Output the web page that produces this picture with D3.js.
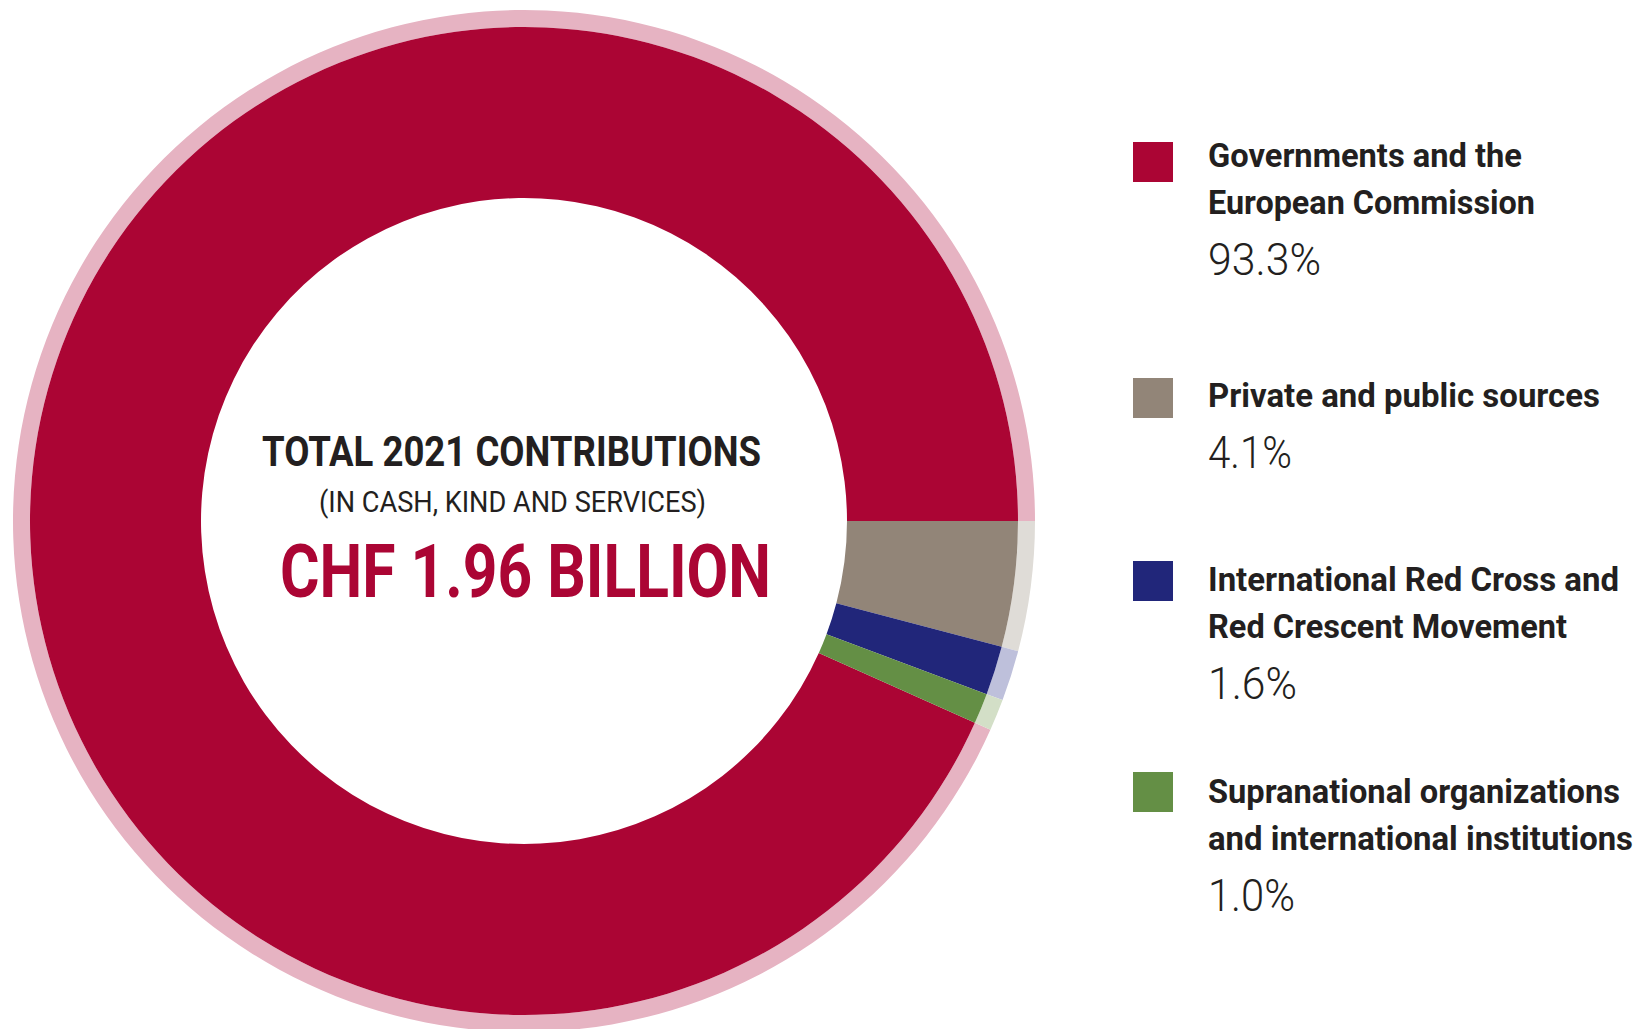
<!DOCTYPE html>
<html>
<head>
<meta charset="utf-8">
<script src="https://cdn.jsdelivr.net/npm/d3@7"></script>
<style>
  html, body { margin: 0; padding: 0; background: #ffffff; }
  svg { display: block; }
  .cond { font-family: "Roboto", "Liberation Sans", "DejaVu Sans", sans-serif; }
</style>
</head>
<body>
<svg id="chart" width="1645" height="1029"></svg>
<script>
// ---- data ----
const categories = [
  "Governments and the European Commission",
  "Private and public sources",
  "International Red Cross and Red Crescent Movement",
  "Supranational organizations and international institutions"
];
const legendLines = [
  ["Governments and the", "European Commission"],
  ["Private and public sources"],
  ["International Red Cross and", "Red Crescent Movement"],
  ["Supranational organizations", "and international institutions"]
];
const values = [93.3, 4.1, 1.6, 1.0];
const valueLabels = ["93.3%", "4.1%", "1.6%", "1.0%"];
const colors = ["#ab0534", "#928578", "#21267a", "#648f45"];
const tints = ["#e6b3c2", "#dfdcd7", "#bec0db", "#d3dfc7"];
const centerTitle = "TOTAL 2021 CONTRIBUTIONS";
const centerSub = "(IN CASH, KIND AND SERVICES)";
const centerTotal = "CHF 1.96 BILLION";

// ---- layout (condensed-type widths, measured on the reference) ----
const svg = d3.select("#chart");
const cx = 524, cy = 521;
const rInner = 323, rMid = 494, rOuter = 511;
const legendLineWidths = [[314, 327], [392], [411, 359], [412, 425]];
const valueLabelWidths = [113, 84, 89, 87];

const total = d3.sum(values);
// Governments slice ends exactly at 3 o'clock; the other slices follow clockwise.
const start = Math.PI / 2 - 2 * Math.PI * values[0] / total;
const pie = d3.pie().sort(null).value(d => d)
  .startAngle(start).endAngle(start + 2 * Math.PI);
const arcs = pie(values);

const g = svg.append("g").attr("transform", `translate(${cx},${cy})`);
const arcMain = d3.arc().innerRadius(rInner).outerRadius(rMid);
const arcRim = d3.arc().innerRadius(rMid).outerRadius(rOuter);

g.selectAll("path.rim").data(arcs).join("path")
  .attr("class", "rim")
  .attr("d", arcRim)
  .attr("fill", (d, i) => tints[i]);

g.selectAll("path.main").data(arcs).join("path")
  .attr("class", "main")
  .attr("d", arcMain)
  .attr("fill", (d, i) => colors[i]);

function condText(sel, x, y, size, weight, fill, txt, width) {
  return sel.append("text").attr("class", "cond")
    .attr("x", x).attr("y", y)
    .attr("font-size", size).attr("font-weight", weight)
    .attr("fill", fill)
    .attr("textLength", width)
    .attr("lengthAdjust", "spacingAndGlyphs")
    .text(txt);
}

// ---- center text ----
condText(svg, 262, 466, 43, 700, "#231f20", centerTitle, 499);
condText(svg, 319, 512, 30, 400, "#231f20", centerSub, 387);
condText(svg, 280, 597, 74, 700, colors[0], centerTotal, 491);

// ---- legend ----
const legendSquareTop = [142, 378, 561, 772];
const legendFirstBaseline = [167, 407, 591, 803];
const lineStep = 46.5, pctStep = 61;
const lg = svg.append("g");
categories.forEach((c, i) => {
  lg.append("rect")
    .attr("x", 1133).attr("y", legendSquareTop[i])
    .attr("width", 40).attr("height", 40)
    .attr("fill", colors[i]);
  const lines = legendLines[i];
  lines.forEach((t, j) => {
    condText(lg, 1208, legendFirstBaseline[i] + j * lineStep, 33, 700, "#231f20", t, legendLineWidths[i][j]);
  });
  condText(lg, 1208, legendFirstBaseline[i] + (lines.length - 1) * lineStep + pctStep,
    45, 300, "#231f20", valueLabels[i], valueLabelWidths[i]);
});
</script>
</body>
</html>
